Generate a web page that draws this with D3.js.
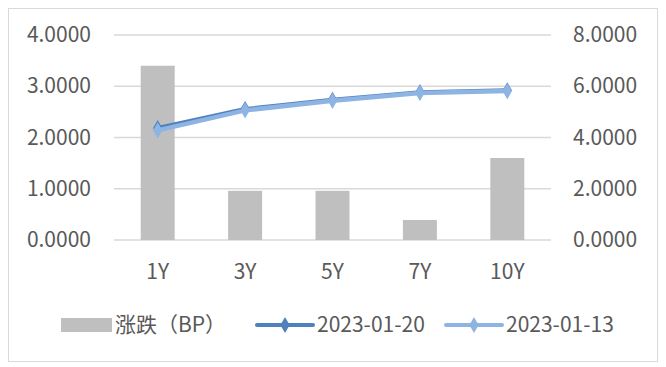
<!DOCTYPE html>
<html lang="zh">
<head>
    <meta charset="UTF-8">
    <title>涨跌</title>
    <script src="https://d3js.org/d3.v7.min.js"></script>
    <style>
        body { margin: 0; background: #fff; }
        text {
            font-family: "Noto Sans CJK SC", "Noto Sans", sans-serif;
            font-size: 21px;
            fill: #595959;
        }
    </style>
</head>
<body>
<svg id="chart" width="666" height="367"></svg>
<script>
    const categories = ["1Y", "3Y", "5Y", "7Y", "10Y"];
    const changeBP = [3.40, 0.96, 0.96, 0.39, 1.60];
    const rate0120 = [4.37, 5.11, 5.47, 5.77, 5.84];
    const rate0113 = [4.28, 5.06, 5.43, 5.74, 5.81];
    const leftTicks = [0, 1, 2, 3, 4];
    const rightTicks = [0, 2, 4, 6, 8];

    const svg = d3.select("#chart");
    const plot = { left: 114, right: 551, top: 35, bottom: 240 };

    // outer frame
    svg.append("rect")
        .attr("x", 8.5).attr("y", 8.5)
        .attr("width", 649).attr("height", 353)
        .attr("fill", "#fff")
        .attr("stroke", "#d9d9d9");

    const x = d3.scaleBand().domain(categories).range([plot.left, plot.right]);
    const yL = d3.scaleLinear().domain([0, 4]).range([plot.bottom, plot.top]);
    const yR = d3.scaleLinear().domain([0, 8]).range([plot.bottom, plot.top]);

    // gridlines
    svg.append("g").selectAll("line")
        .data(leftTicks).enter().append("line")
        .attr("x1", plot.left).attr("x2", plot.right)
        .attr("y1", d => yL(d)).attr("y2", d => yL(d))
        .attr("stroke", "#d9d9d9").attr("stroke-width", 1.5);

    // left axis
    const leftAxis = svg.append("g")
        .attr("transform", `translate(${plot.left - 23},0)`)
        .call(d3.axisLeft(yL).tickValues(leftTicks).tickFormat(d3.format(".4f")).tickSize(0).tickPadding(0));
    leftAxis.select(".domain").remove();
    leftAxis.selectAll("text").attr("font-size", null).attr("font-family", null);

    // right axis
    const rightAxis = svg.append("g")
        .attr("transform", `translate(${plot.right + 22},0)`)
        .call(d3.axisRight(yR).tickValues(rightTicks).tickFormat(d3.format(".4f")).tickSize(0).tickPadding(0));
    rightAxis.select(".domain").remove();
    rightAxis.selectAll("text").attr("font-size", null).attr("font-family", null);

    // category axis
    const bottomAxis = svg.append("g")
        .attr("transform", `translate(0,${plot.bottom + 32})`)
        .call(d3.axisBottom(x).tickSize(0).tickPadding(0));
    bottomAxis.select(".domain").remove();
    bottomAxis.selectAll("text").attr("font-size", null).attr("font-family", null).attr("dy", "0.35em");

    // bars
    const barW = 34;
    svg.append("g").selectAll("rect")
        .data(changeBP).enter().append("rect")
        .attr("x", (d, i) => x(categories[i]) + x.bandwidth() / 2 - barW / 2)
        .attr("width", barW)
        .attr("y", d => yL(d))
        .attr("height", d => yL(0) - yL(d))
        .attr("fill", "#bfbfbf");

    const line = d3.line()
        .x((d, i) => x(categories[i]) + x.bandwidth() / 2)
        .y(d => yR(d));

    const diamond = d3.symbol().type(d3.symbolDiamond).size(75);

    function drawSeries(values, color, w) {
        svg.append("path")
            .datum(values)
            .attr("d", line)
            .attr("fill", "none")
            .attr("stroke", color)
            .attr("stroke-width", w)
            .attr("stroke-linejoin", "round");
        svg.append("g").selectAll("path")
            .data(values).enter().append("path")
            .attr("d", diamond)
            .attr("transform", (d, i) => `translate(${x(categories[i]) + x.bandwidth() / 2},${yR(d)})`)
            .attr("fill", color);
    }
    drawSeries(rate0120, "#4f81bd", 4);
    drawSeries(rate0113, "#8db4e2", 4.5);

    // legend
    const legendY = 325;
    const legend = svg.append("g");
    legend.append("rect")
        .attr("x", 61).attr("y", legendY - 7)
        .attr("width", 51).attr("height", 14)
        .attr("fill", "#bfbfbf");
    legend.append("text")
        .attr("x", 115).attr("y", legendY).attr("dy", "0.35em")
        .text("涨跌（BP）");

    const legendLines = [
        { x: 257, color: "#4f81bd", label: "2023-01-20" },
        { x: 446, color: "#8db4e2", label: "2023-01-13" }
    ];
    legendLines.forEach(l => {
        legend.append("line")
            .attr("x1", l.x).attr("x2", l.x + 56)
            .attr("y1", legendY).attr("y2", legendY)
            .attr("stroke", l.color).attr("stroke-width", 4)
            .attr("stroke-linecap", "round");
        legend.append("path")
            .attr("d", diamond)
            .attr("transform", `translate(${l.x + 28},${legendY})`)
            .attr("fill", l.color);
        legend.append("text")
            .attr("x", l.x + 60).attr("y", legendY).attr("dy", "0.35em")
            .text(l.label);
    });
</script>
</body>
</html>
